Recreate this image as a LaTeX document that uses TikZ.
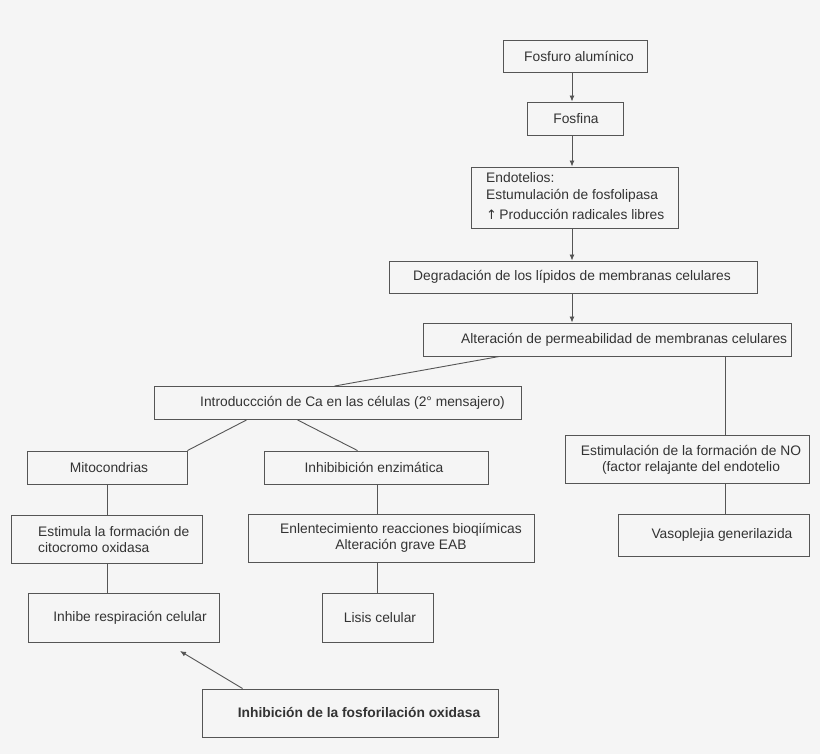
\documentclass[tikz,border=0pt]{standalone}
\usepackage{fontspec}
\setmainfont{Liberation Sans}
\newfontfamily\arrowfont{DejaVu Sans}
\usetikzlibrary{arrows.meta}
\definecolor{bg}{HTML}{F5F5F5}
\definecolor{ln}{HTML}{555555}
\definecolor{tx}{HTML}{333333}
\tikzset{
  box/.style={draw=ln, line width=0.9pt, rectangle, inner sep=0pt},
  txt/.style={text=tx, inner sep=0pt, font=\fontsize{13.8}{16}\selectfont},
  conn/.style={draw=ln, line width=0.9pt},
  arr/.style={conn, -{Latex[length=6pt,width=5pt]}},
}
\begin{document}
\begin{tikzpicture}[x=1pt,y=-1pt]
\fill[bg] (0,0) rectangle (820,754);
\useasboundingbox (0,0) rectangle (820,754);

% boxes
\node[box, minimum width=144, minimum height=32] (fa) at (575,56) {};
\node[box, minimum width=96, minimum height=33] (fo) at (575,118.5) {};
\node[box, minimum width=207, minimum height=61] (en) at (574.5,197.5) {};
\node[box, minimum width=368, minimum height=32] (de) at (573,277) {};
\node[box, minimum width=368, minimum height=33] (al) at (607,339.5) {};
\node[box, minimum width=367, minimum height=33] (in) at (337.5,403) {};
\node[box, minimum width=160, minimum height=33] (mi) at (107,467.5) {};
\node[box, minimum width=224, minimum height=33] (ie) at (376,467.5) {};
\node[box, minimum width=191, minimum height=48] (es) at (106.5,539) {};
\node[box, minimum width=286, minimum height=48] (el) at (391,538) {};
\node[box, minimum width=191, minimum height=49] (ir) at (123.5,617.5) {};
\node[box, minimum width=111, minimum height=49] (li) at (377.5,617.5) {};
\node[box, minimum width=296, minimum height=48] (fx) at (350,713) {};
\node[box, minimum width=244, minimum height=48] (no) at (687,459) {};
\node[box, minimum width=191, minimum height=42] (va) at (713.5,535) {};

% texts
\node[txt, anchor=west] (tfa) at (524,56) {Fosfuro alumínico};
\node[txt] (tfo) at (576,118.5) {Fosfina};
\node[txt, anchor=west] (ten1) at (486,178) {Endotelios:};
\node[txt, anchor=west] (ten2) at (486,196) {Estumulación de fosfolipasa};
\node[txt, anchor=west] (ten3) at (486,214) {{\arrowfont\fontsize{13}{16}\selectfont ↑}\,Producción radicales libres};
\node[txt] (tde) at (572,277) {Degradación de los lípidos de membranas celulares};
\node[txt, anchor=west] (tal) at (461,339.5) {Alteración de permeabilidad de membranas celulares};
\node[txt, anchor=west] (tin) at (200,403) {Introduccción de Ca en las células (2° mensajero)};
\node[txt] (tmi) at (109,467.5) {Mitocondrias};
\node[txt] (tie) at (374,467.5) {Inhibibición enzimática};
\node[txt, anchor=west, align=left] (tes) at (38,539.5) {Estimula la formación de\\citocromo oxidasa};
\node[txt, align=center] (tel) at (401,538) {Enlentecimiento reacciones bioqiímicas\\Alteración grave EAB};
\node[txt] (tir) at (130,617.5) {Inhibe respiración celular};
\node[txt] (tli) at (380,617.5) {Lisis celular};
\node[txt, font=\fontsize{13.8}{16}\selectfont\bfseries] (tfx) at (359,712.5) {Inhibición de la fosforilación oxidasa};
\node[txt, align=center] (tno) at (691,459.5) {Estimulación de la formación de NO\\(factor relajante del endotelio};
\node[txt] (tva) at (722,534.5) {Vasoplejia generilazida};

% arrows down the main chain
\draw[arr] (fa.south -| 572,0) -- (fo.north -| 572,0);
\draw[arr] (fo.south -| 572,0) -- (en.north -| 572,0);
\draw[arr] (en.south -| 572,0) -- (de.north -| 572,0);
\draw[arr] (de.south -| 572,0) -- (al.north -| 572,0);

% plain connectors
\draw[conn] ([xshift=77pt]al.south west) -- ([xshift=181pt]in.north west);
\draw[conn] (al.south -| 725,0) -- (no.north -| 725,0);
\draw[conn] (no.south -| 725,0) -- (va.north -| 725,0);
\draw[conn] ([xshift=93pt]in.south west) -- (mi.north east);
\draw[conn] ([xshift=144pt]in.south west) -- ([xshift=94pt]ie.north west);
\draw[conn] (mi.south -| 107,0) -- (es.north -| 107,0);
\draw[conn] (es.south -| 107,0) -- (ir.north -| 107,0);
\draw[conn] (ie.south -| 377,0) -- (el.north -| 377,0);
\draw[conn] (el.south -| 377,0) -- (li.north -| 377,0);

% arrow from bottom box
\coordinate (tip) at (180,651);
\draw[arr] ([xshift=41pt]fx.north west) -- (tip);
\end{tikzpicture}
\end{document}
